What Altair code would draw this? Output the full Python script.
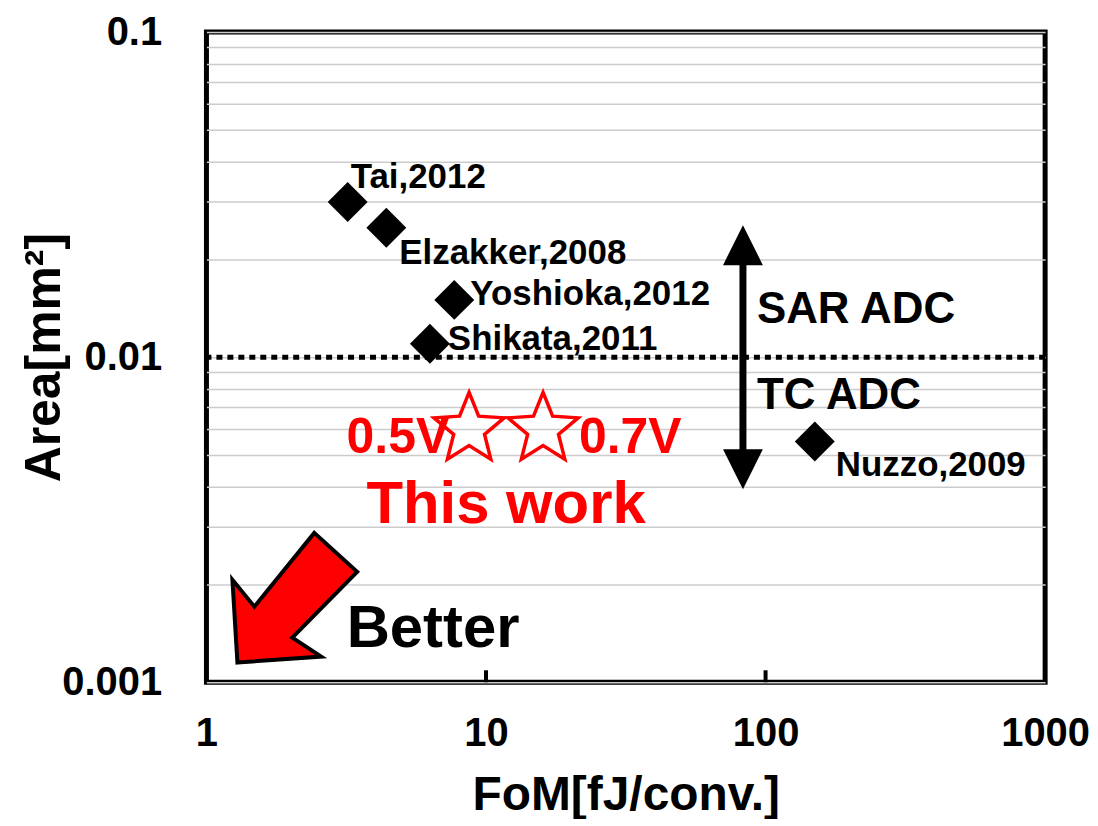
import math
import altair as alt
import pandas as pd

FONT = "Liberation Sans"

# ---- data ----
adc_names = ["Tai,2012", "Elzakker,2008", "Yoshioka,2012", "Shikata,2011", "Nuzzo,2009"]
adc_fom = [3.2, 4.4, 7.7, 6.3, 150]
adc_area = [0.030, 0.025, 0.015, 0.011, 0.0055]
adc_label_dx = [3, 13, 16, 18, 21]
adc_label_dy = [-14, 36, 5, 6, 35]

this_labels = ["0.5V", "0.7V"]
this_fom = [8.7, 16.0]
this_area = [0.0060, 0.0060]

boundary_area = [0.01]          # SAR / TC ADC boundary
arrow_fom = [83.0]              # double arrow position
arrow_top = [0.0221]            # centre of upper head
arrow_bottom = [0.00452]        # centre of lower head
better_fom = [2.07]
better_area = [0.00182]

x_ticks = [1, 10, 100, 1000]
x_tick_labels = ["1", "10", "100", "1000"]
inner_x_ticks = [10, 100]
y_grid = [0.001, 0.002, 0.003, 0.004, 0.005, 0.006, 0.007, 0.008, 0.009,
          0.01, 0.02, 0.03, 0.04, 0.05, 0.06, 0.07, 0.08, 0.09, 0.1]
y_tick_values = [0.001, 0.01, 0.1]
y_tick_labels = ["0.001", "0.01", "0.1"]

# ---- scales ----
XS = alt.Scale(type="log", domain=[1, 1000], nice=False)
YS = alt.Scale(type="log", domain=[0.001, 0.1], nice=False)


def X(**kw):
    return alt.X("fom", type="quantitative", scale=XS, **kw)


def Y(field="area", **kw):
    return alt.Y(field, type="quantitative", scale=YS, **kw)


ylab_expr = " : ".join(
    f"datum.value == {v} ? '{t}'" for v, t in zip(y_tick_values, y_tick_labels)
) + " : ''"
xlab_expr = " : ".join(
    f"datum.value == {v} ? '{t}'" for v, t in zip(x_ticks, x_tick_labels)
) + " : ''"

# base layer carrying axes + gridlines (diamond points)
pts = pd.DataFrame({"name": adc_names, "fom": adc_fom, "area": adc_area})
points = alt.Chart(pts).mark_point(
    shape="diamond", filled=True, color="black", size=1600, opacity=1
).encode(
    x=X(axis=alt.Axis(
        title="FoM[fJ/conv.]", values=x_ticks, labelExpr=xlab_expr,
        grid=False, ticks=False, domain=False, labelFlush=False, labelOverlap=False,
        labelFont=FONT, labelFontSize=40, labelFontWeight="bold", labelColor="black",
        labelPadding=31,
        titleFont=FONT, titleFontSize=48, titleFontWeight="bold", titleColor="black",
        titleX=420.5, titleY=114, titleBaseline="middle", titleAlign="center")),
    y=Y(axis=alt.Axis(
        title="Area[mm²]", values=y_grid, labelExpr=ylab_expr,
        grid=True, gridColor="#cccccc", gridWidth=1.5,
        ticks=False, domain=False, labelFlush=False, labelOverlap=False,
        labelFont=FONT, labelFontSize=40, labelFontWeight="bold", labelColor="black",
        labelPadding=45,
        titleFont=FONT, titleFontSize=50, titleFontWeight="bold", titleColor="black",
        titleX=-162, titleY=326, titleAngle=-90, titleBaseline="middle",
        titleAlign="center")),
)

layers = [points]

# dotted boundary line
bdf = pd.DataFrame({"area": boundary_area})
layers.append(alt.Chart(bdf).mark_rule(
    color="black", strokeWidth=5, strokeDash=[6, 5]
).encode(y=Y()))

# inward x ticks at the bottom
tdf = pd.DataFrame({"fom": inner_x_ticks})
layers.append(alt.Chart(tdf).mark_rule(color="black", strokeWidth=4).encode(
    x=X(), y=alt.value(640), y2=alt.value(652)))

# labels of the points
for n, fx, ay, dx, dy in zip(adc_names, adc_fom, adc_area, adc_label_dx, adc_label_dy):
    d = pd.DataFrame({"name": [n], "fom": [fx], "area": [ay]})
    layers.append(alt.Chart(d).mark_text(
        align="left", baseline="alphabetic", dx=dx, dy=dy, font=FONT,
        fontSize=35, fontWeight="bold", color="black"
    ).encode(x=X(), y=Y(), text="name:N"))

# double arrow
adf = pd.DataFrame({"fom": arrow_fom, "area": arrow_top, "area2": arrow_bottom})
layers.append(alt.Chart(adf).mark_rule(color="black", strokeWidth=7).encode(
    x=X(), y=Y(), y2="area2:Q"))
layers.append(alt.Chart(adf).mark_point(
    shape="M0,-1L1,1L-1,1Z", filled=True, color="black", size=1600, opacity=1
).encode(x=X(), y=Y()))
adf2 = pd.DataFrame({"fom": arrow_fom, "area": arrow_bottom})
layers.append(alt.Chart(adf2).mark_point(
    shape="M0,1L1,-1L-1,-1Z", filled=True, color="black", size=1600, opacity=1
).encode(x=X(), y=Y()))

# SAR / TC ADC texts (anchored on the boundary line, at the arrow)
for txt, dy in [("SAR ADC", -34), ("TC ADC", 52)]:
    d = pd.DataFrame({"t": [txt], "fom": arrow_fom, "area": boundary_area})
    layers.append(alt.Chart(d).mark_text(
        align="left", baseline="alphabetic", dx=14, dy=dy, font=FONT,
        fontSize=44, fontWeight="bold", color="black"
    ).encode(x=X(), y=Y(), text="t:N"))

# this work: stars
star_pts = []
for k in range(10):
    ang = math.radians(-90 + 36 * k)
    r = 1.0 if k % 2 == 0 else 0.44
    star_pts.append(f"{r * math.cos(ang):.3f},{r * math.sin(ang):.3f}")
STAR = "M" + "L".join(star_pts) + "Z"

sdf = pd.DataFrame({"lab": this_labels, "fom": this_fom, "area": this_area})
layers.append(alt.Chart(sdf).mark_point(
    shape=STAR, filled=False, stroke="#ff0000", strokeWidth=3.5, size=5476, opacity=1
).encode(x=X(), y=Y()))

for i, (al, dx) in enumerate([("right", -20), ("left", 36)]):
    d = sdf.iloc[[i]]
    layers.append(alt.Chart(d).mark_text(
        align=al, baseline="alphabetic", dx=dx, dy=24, font=FONT,
        fontSize=50, fontWeight="bold", color="#ff0000"
    ).encode(x=X(), y=Y(), text="lab:N"))

# "This work" centred between stars
tw = pd.DataFrame({"t": ["This work"],
                   "fom": [math.sqrt(this_fom[0] * this_fom[1])],
                   "area": [this_area[0]]})
layers.append(alt.Chart(tw).mark_text(
    align="center", baseline="alphabetic", dy=94, font=FONT,
    fontSize=60, fontWeight="bold", color="#ff0000"
).encode(x=X(), y=Y(), text="t:N"))

# Better arrow
BETTER = ("M-0.885,1.0L0.408,0.908L-0.038,0.615L0.962,-0.4L0.3,-1.0"
          "L-0.623,0.138L-0.962,-0.277Z")
bd = pd.DataFrame({"t": ["Better"], "fom": better_fom, "area": better_area})
layers.append(alt.Chart(bd).mark_point(
    shape=BETTER, filled=True, fill="#ff0000", stroke="black", strokeWidth=4,
    size=16900, opacity=1, fillOpacity=1
).encode(x=X(), y=Y()))
layers.append(alt.Chart(bd).mark_text(
    align="left", baseline="alphabetic", dx=52, dy=49, font=FONT,
    fontSize=60, fontWeight="bold", color="black"
).encode(x=X(), y=Y(), text="t:N"))

chart = alt.layer(*layers).properties(
    width=841, height=652,
    autosize=alt.AutoSizeParams(type="none"),
    padding={"left": 199, "top": 23, "right": 45, "bottom": 136},
).configure_view(stroke="black", strokeWidth=5)

chart.save("out.html", embed_options={"renderer": "svg", "actions": False})
